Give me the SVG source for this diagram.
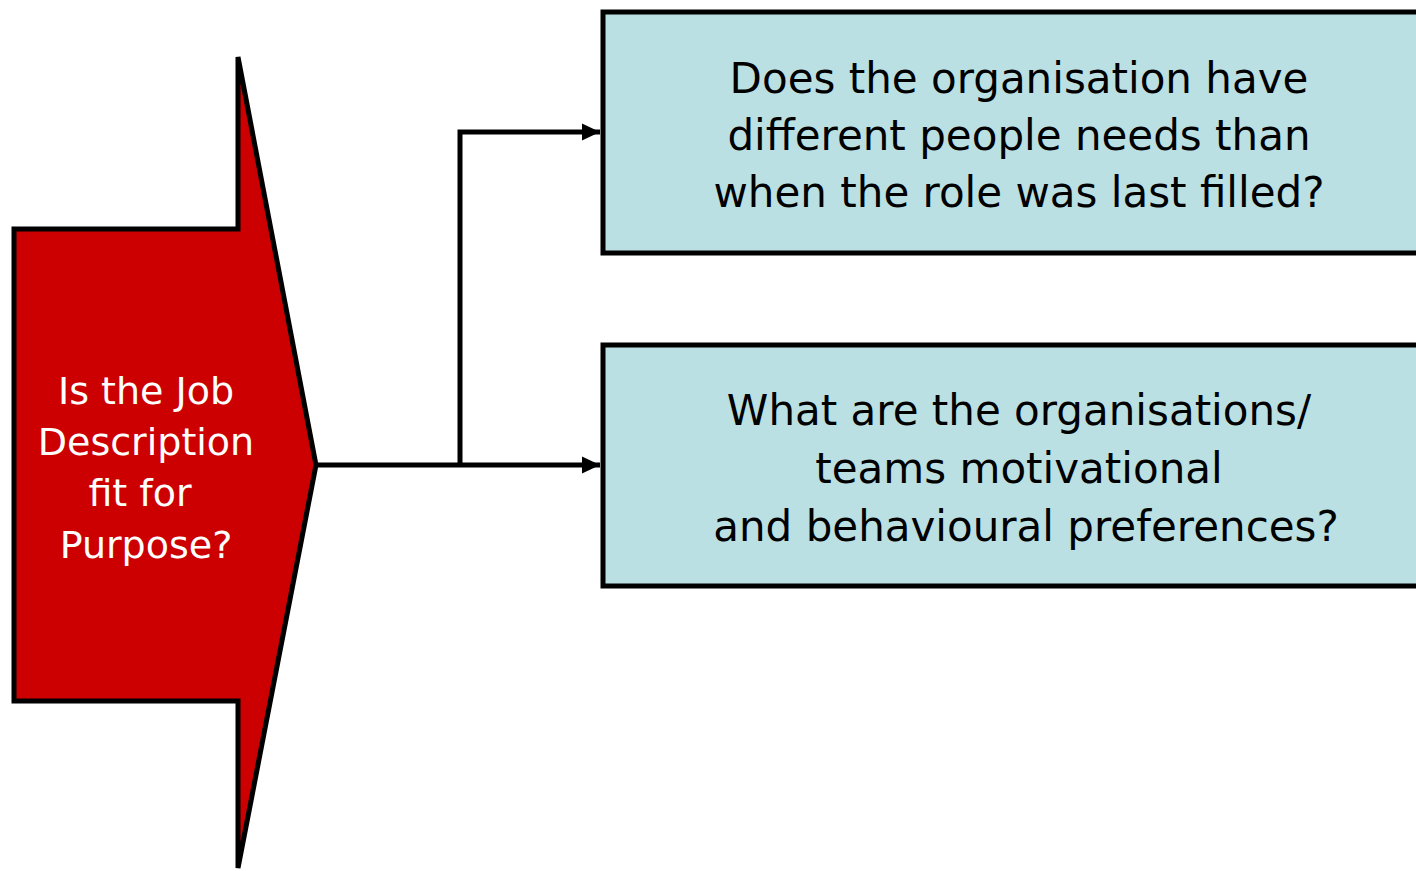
<svg xmlns="http://www.w3.org/2000/svg" width="1416" height="871" viewBox="0 0 1416 871">
<style>
.box{fill:#bbe0e3;stroke:#000;stroke-width:5}
.bt{font-family:"DejaVu Sans",sans-serif;font-size:42px;fill:#000;text-anchor:middle}
.lt{font-family:"DejaVu Sans",sans-serif;font-size:38px;fill:#fff;text-anchor:middle}
.conn{fill:none;stroke:#000;stroke-width:5}
</style>
<defs>
<marker id="ah" markerWidth="18" markerHeight="18" refX="18" refY="9" orient="auto" markerUnits="userSpaceOnUse">
<path d="M0,0.5 L18,9 L0,17.5 Z" fill="#000"/>
</marker>
</defs>
<g id="start">
<path d="M14,229 L238,229 L238,57 L316,465 L238,868 L238,701 L14,701 Z" fill="#cc0000" stroke="#000" stroke-width="5" stroke-linejoin="miter"/>
<text class="lt"><tspan x="146" y="404">Is the Job</tspan><tspan x="146" y="455">Description</tspan><tspan x="140" y="506">fit for</tspan><tspan x="146" y="558">Purpose?</tspan></text>
</g>
<g id="q1">
<rect class="box" x="603" y="12" width="830" height="241"/>
<text class="bt"><tspan x="1019" y="93">Does the organisation have</tspan><tspan x="1019" y="150">different people needs than</tspan><tspan x="1019" y="207">when the role was last filled?</tspan></text>
</g>
<g id="q2">
<rect class="box" x="603" y="345" width="830" height="241"/>
<text class="bt"><tspan x="1019" y="425">What are the organisations/</tspan><tspan x="1019" y="483">teams motivational</tspan><tspan x="1026" y="541">and behavioural preferences?</tspan></text>
</g>
<g id="connectors">
<path class="conn" d="M316,465 L600,465" marker-end="url(#ah)"/>
<path class="conn" d="M460,465 L460,132 L600,132" marker-end="url(#ah)"/>
</g>
</svg>
